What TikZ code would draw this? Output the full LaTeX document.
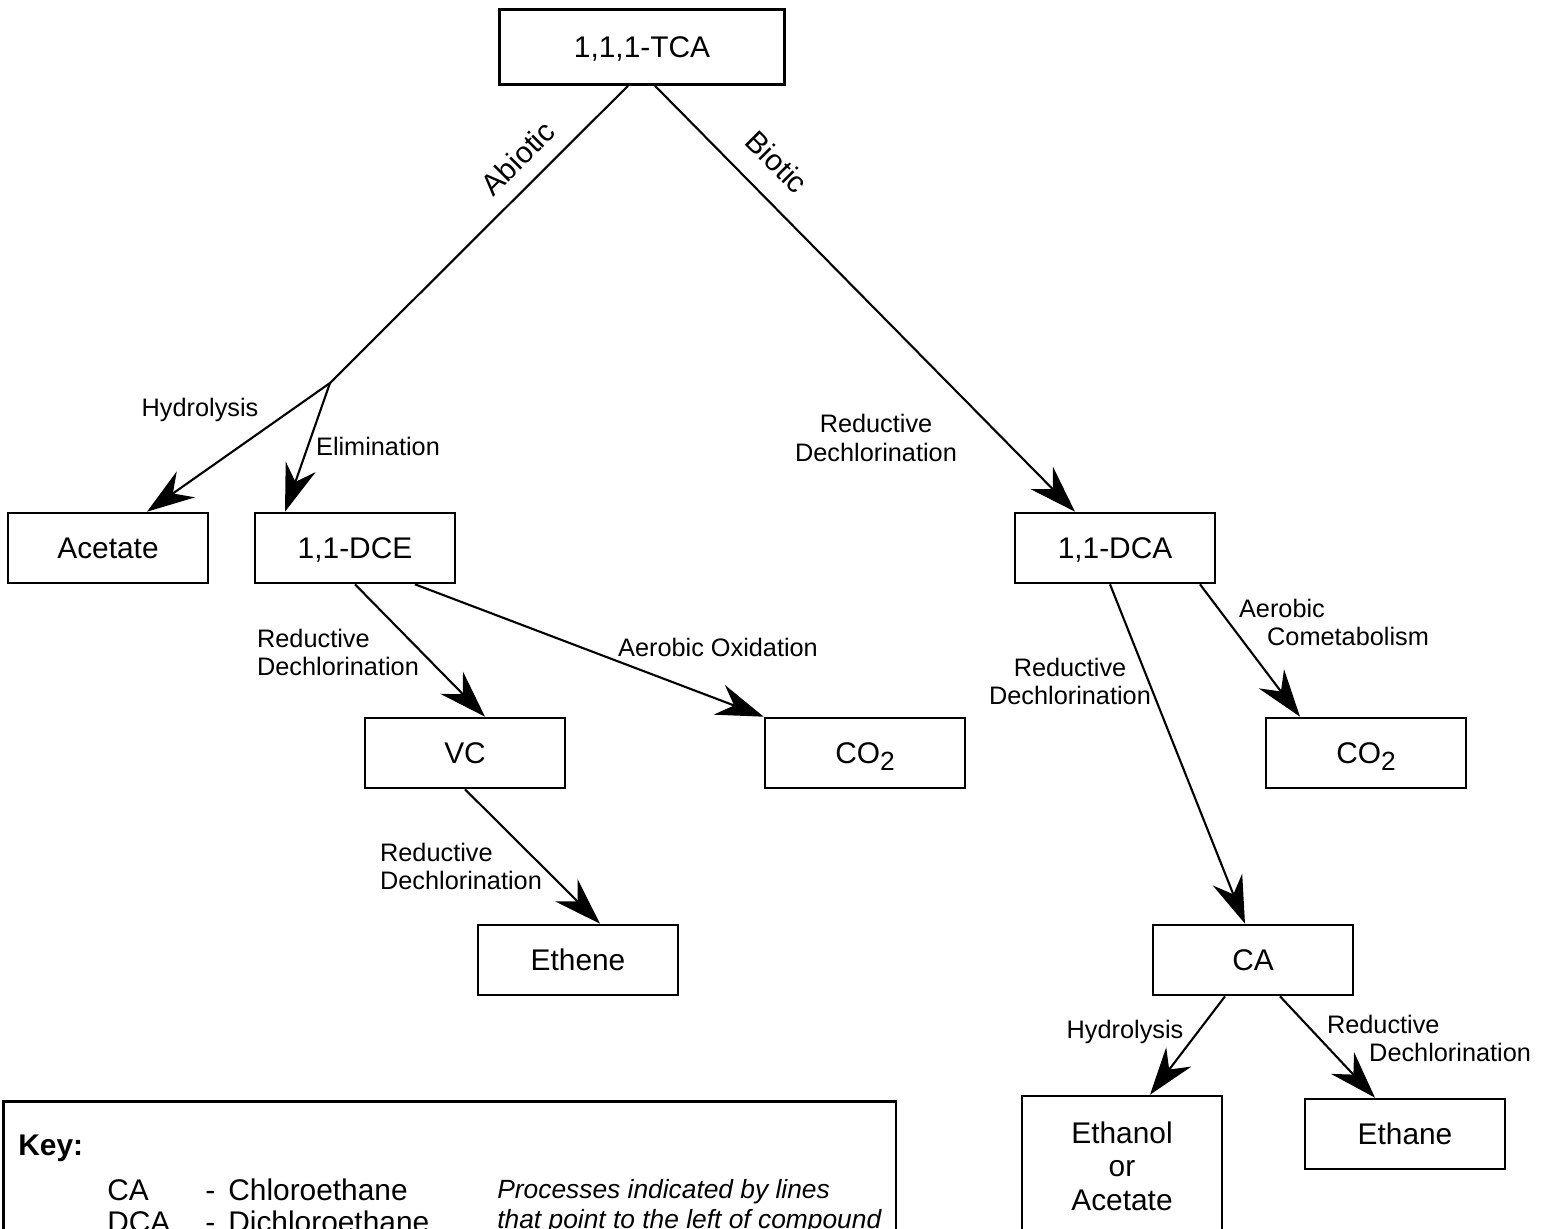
\documentclass[tikz,border=0pt]{standalone}
\usepackage{fontspec}
\setmainfont{Liberation Sans}
\usetikzlibrary{arrows.meta,calc}

\newcommand{\cotwo}{CO\raisebox{-0.45ex}{\fontsize{15}{15}\selectfont 2}}

\begin{document}
\begin{tikzpicture}[x=0.02cm,y=-0.02cm,
	box/.style={draw, line width=1.5pt, minimum width=4cm, minimum height=1.4cm, inner sep=0pt, font=\fontsize{17}{19}\selectfont, align=center, text height=12.2pt, text depth=0pt},
	proc/.style={inner sep=0pt, align=center, font=\fontsize{14.4}{16}\selectfont},
	flow/.style={line width=1.2pt, -{Stealth[length=27pt, width=18pt, inset=9pt]}},
	keytxt/.style={inner sep=0pt, anchor=base west, font=\fontsize{17}{19}\selectfont}]
	\useasboundingbox (0,0) rectangle (1548,1228);
	\clip (0,0) rectangle (1548,1228);

	\node[box, minimum width=5.7cm, minimum height=1.5cm] (tca) at (642,47) {1,1,1-TCA};
	\node[box] (acetate) at (108,548) {Acetate};
	\node[box] (dce) at (355,548) {1,1-DCE};
	\node[box] (dca) at (1115,548) {1,1-DCA};
	\node[box] (vc) at (465,753) {VC};
	\node[box] (cotwoa) at (865,753) {\cotwo};
	\node[box] (cotwob) at (1366,753) {\cotwo};
	\node[box] (ethene) at (578,960) {Ethene};
	\node[box] (ca) at (1253,960) {CA};
	\node[box, minimum height=2.8cm, text height=, text depth=] (ethanol) at (1122,1166) {Ethanol\\or\\Acetate};
	\node[box] (ethane) at (1405,1134) {Ethane};
	\coordinate (split) at (330,383);

	\draw[line width=1.2pt] ($(tca.south)+(-14,0)$) -- (split);
	\draw[flow] (split) -- ($(acetate.north)+(39,0)$);
	\draw[flow] (split) -- ($(dce.north)+(-70,0)$);
	\draw[flow] ($(tca.south)+(13,0)$) -- ($(dca.north)+(-40,0)$);
	\draw[flow] (dce.south) -- ($(vc.north)+(20,0)$);
	\draw[flow] ($(dce.south)+(60,0)$) -- (cotwoa.north west);
	\draw[flow] (vc.south) -- ($(ethene.north)+(22,0)$);
	\draw[flow] ($(dca.south)+(-5,0)$) -- ($(ca.north)+(-8,0)$);
	\draw[flow] ($(dca.south)+(85,0)$) -- ($(cotwob.north)+(-66,0)$);
	\draw[flow] ($(ca.south)+(-28,0)$) -- ($(ethanol.north)+(28,0)$);
	\draw[flow] ($(ca.south)+(27,0)$) -- ($(ethane.north)+(-30,0)$);

	\node[proc, rotate=45, font=\fontsize{17}{19}\selectfont] (labiotic) at (518,158) {Abiotic};
	\node[proc, rotate=-45, font=\fontsize{17}{19}\selectfont] (lbiotic) at (777,162) {Biotic};
	\node[proc] (lhydro) at (200,410) {Hydrolysis};
	\node[proc] (lelim) at (378,446) {Elimination};
	\node[proc] (lreda) at (876,438) {Reductive\\Dechlorination};
	\node[proc, align=left] (lredb) at (338,652) {Reductive\\Dechlorination};
	\node[proc] (loxid) at (718,647) {Aerobic Oxidation};
	\node[proc, align=left] (lredc) at (461,866) {Reductive\\Dechlorination};
	\node[proc] (lredd) at (1070,681) {Reductive\\Dechlorination};
	\node[proc, align=left] (lcomet) at (1334,622) {Aerobic\\\hspace*{16pt}Cometabolism};
	\node[proc] (lhydrob) at (1125,1032) {Hydrolysis};
	\node[proc, align=left] (lrede) at (1429,1038) {Reductive\\\hspace*{24pt}Dechlorination};

	\node[draw, line width=1.5pt, anchor=north west, minimum width=17.86cm, minimum height=5cm, inner sep=0pt] (keybox) at (2,1100) {};
	\node[keytxt, font=\fontsize{17}{19}\selectfont\bfseries] (keyhead) at (18,1155) {Key:};
	\node[keytxt] (abca) at (107,1200) {CA};
	\node[keytxt] (dasha) at (205,1200) {-};
	\node[keytxt] (nameca) at (228,1200) {Chloroethane};
	\node[keytxt] (abdca) at (107,1232) {DCA};
	\node[keytxt] (dashb) at (205,1232) {-};
	\node[keytxt] (namedca) at (228,1232) {Dichloroethane};
	\node[keytxt, font=\fontsize{15}{17}\selectfont\itshape] (notea) at (497,1198) {Processes indicated by lines};
	\node[keytxt, font=\fontsize{15}{17}\selectfont\itshape] (noteb) at (497,1228) {that point to the left of compound};
\end{tikzpicture}
\end{document}
